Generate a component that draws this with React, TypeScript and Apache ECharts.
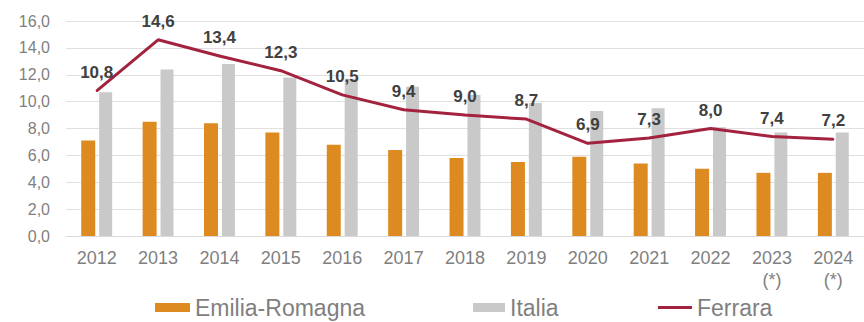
import React, { useEffect, useRef } from "react";
import * as echarts from "echarts";

const categories = ["2012", "2013", "2014", "2015", "2016", "2017", "2018", "2019", "2020", "2021", "2022", "2023\n(*)", "2024\n(*)"];
const emiliaRomagna = [7.1, 8.5, 8.4, 7.7, 6.8, 6.4, 5.8, 5.5, 5.9, 5.4, 5.0, 4.7, 4.7];
const italia = [10.7, 12.4, 12.8, 11.8, 11.7, 11.1, 10.5, 9.9, 9.3, 9.5, 8.1, 7.7, 7.7];
const ferrara = [10.8, 14.6, 13.4, 12.3, 10.5, 9.4, 9.0, 8.7, 6.9, 7.3, 8.0, 7.4, 7.2];

const fmt = (v: number) => v.toFixed(1).replace(".", ",");
const FONT = "Liberation Sans, Arial, sans-serif";

export default function App() {
  const ref = useRef<HTMLDivElement>(null);
  useEffect(() => {
    if (!ref.current) return;
    const chart = echarts.init(ref.current, null, { renderer: "svg" });
    const legendText = { color: "#7f7f7f", fontSize: 23, fontFamily: FONT };
    chart.setOption({
      animation: false,
      backgroundColor: "#ffffff",
      grid: { left: 66, right: -12, top: 21, bottom: 86 },
      legend: [
        { data: ["Emilia-Romagna"], left: 155, top: 296, itemWidth: 35, itemHeight: 9, icon: "rect", textStyle: legendText, itemGap: 0, padding: 0 },
        { data: ["Italia"], left: 473, top: 296, itemWidth: 32, itemHeight: 9, icon: "rect", textStyle: legendText, itemGap: 0, padding: 0 },
        { data: ["Ferrara"], left: 658, top: 296, itemWidth: 34, itemHeight: 3, icon: "rect", textStyle: legendText, itemGap: 0, padding: 0 },
      ],
      xAxis: {
        type: "category",
        data: categories,
        axisLine: { show: true, lineStyle: { color: "#d9d9d9", width: 1 } },
        axisTick: { show: false },
        axisLabel: {
          color: "#7f7f7f",
          fontSize: 18,
          fontFamily: FONT,
          margin: 11,
          lineHeight: 22,
          interval: 0,
        },
      },
      yAxis: {
        type: "value",
        min: 0,
        max: 16,
        interval: 2,
        axisLine: { show: false },
        axisTick: { show: false },
        splitLine: { lineStyle: { color: "#e0e0e0", width: 1 } },
        axisLabel: {
          color: "#7f7f7f",
          fontSize: 16,
          fontFamily: FONT,
          margin: 16,
          formatter: (v: number) => fmt(v),
        },
      },
      series: [
        {
          name: "Emilia-Romagna",
          type: "bar",
          data: emiliaRomagna,
          barWidth: 14,
          barGap: "28%",
          itemStyle: { color: "#dd8a20" },
        },
        {
          name: "Italia",
          type: "bar",
          data: italia,
          barWidth: 13,
          itemStyle: { color: "#c9c9c9" },
        },
        {
          name: "Ferrara",
          type: "line",
          data: ferrara,
          symbol: "circle",
          symbolSize: 2,
          showSymbol: true,
          z: 5,
          lineStyle: { color: "#a3233f", width: 3 },
          itemStyle: { color: "#a3233f" },
          label: {
            show: true,
            position: "top",
            distance: 9,
            color: "#404040",
            fontSize: 17,
            fontWeight: "bold",
            fontFamily: FONT,
            formatter: (p: any) => fmt(p.value),
          },
        },
      ],
    });
    return () => chart.dispose();
  }, []);
  return <div ref={ref} style={{ width: 864, height: 322, position: "absolute", left: 0, top: 0 }} />;
}
